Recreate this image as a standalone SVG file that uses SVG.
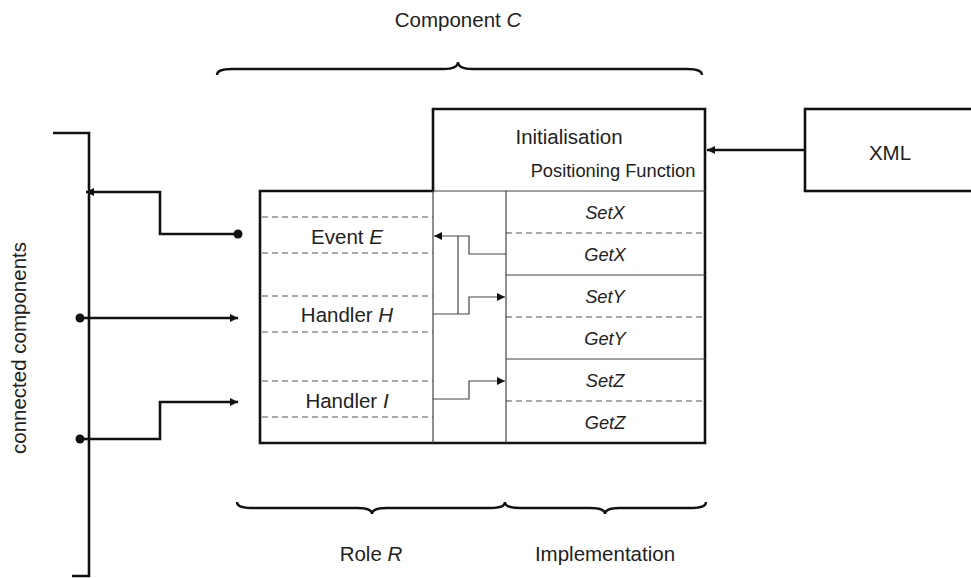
<svg xmlns="http://www.w3.org/2000/svg" width="971" height="578" viewBox="0 0 971 578">
<defs>
<style>
.t{font-family:"Liberation Sans",Arial,sans-serif;font-size:20.5px;fill:#222;text-anchor:middle}
.s{font-family:"Liberation Sans",Arial,sans-serif;font-size:18.3px;fill:#222;text-anchor:middle;font-style:italic}
.thick{fill:none;stroke:#111;stroke-width:2.6}
.thin{fill:none;stroke:#444;stroke-width:1.2}
.dash{fill:none;stroke:#555;stroke-width:1.2;stroke-dasharray:6 4}
.brace{fill:none;stroke:#111;stroke-width:2.4}
</style>
<marker id="ahs" viewBox="0 0 10 10" refX="10" refY="5" markerWidth="8" markerHeight="8" markerUnits="userSpaceOnUse" orient="auto"><path d="M0,0 L10,5 L0,10 z" fill="#111"/></marker>
</defs>
<rect width="971" height="578" fill="#fff"/>

<g id="component-label">
<text class="t" x="458" y="27">Component <tspan font-style="italic">C</tspan></text>
<path class="brace" d="M217,75 Q217,69 232,69 L443,69 Q458,69 458,62 Q458,69 473,69 L687,69 Q702,69 702,75"/>
</g>

<g id="component">
<path class="thick" d="M260,191 L433,191 L433,109 L705,109 L705,443 L260,443 Z"/>
<line class="thin" x1="433" y1="191" x2="705" y2="191"/>
<line class="thin" x1="433" y1="191" x2="433" y2="443"/>
<line class="thin" x1="506" y1="191" x2="506" y2="443"/>
<text class="t" x="569" y="144">Initialisation</text>
<text class="t" x="613" y="177" style="font-size:18.3px">Positioning Function</text>
</g>

<g id="role">
<line class="dash" x1="262" y1="217" x2="433" y2="217"/>
<line class="dash" x1="262" y1="253" x2="433" y2="253"/>
<line class="dash" x1="262" y1="296" x2="433" y2="296"/>
<line class="dash" x1="262" y1="332" x2="433" y2="332"/>
<line class="dash" x1="262" y1="381" x2="433" y2="381"/>
<line class="dash" x1="262" y1="417" x2="433" y2="417"/>
<text class="t" x="347" y="244">Event <tspan font-style="italic">E</tspan></text>
<text class="t" x="347" y="322">Handler <tspan font-style="italic">H</tspan></text>
<text class="t" x="347" y="408">Handler <tspan font-style="italic">I</tspan></text>
</g>

<g id="implementation">
<line class="dash" x1="506" y1="233" x2="705" y2="233"/>
<line class="thin" x1="506" y1="275" x2="705" y2="275"/>
<line class="dash" x1="506" y1="317" x2="705" y2="317"/>
<line class="thin" x1="506" y1="359" x2="705" y2="359"/>
<line class="dash" x1="506" y1="401" x2="705" y2="401"/>
<text class="s" x="605" y="219">SetX</text>
<text class="s" x="605" y="261">GetX</text>
<text class="s" x="605" y="303">SetY</text>
<text class="s" x="605" y="345">GetY</text>
<text class="s" x="605" y="387">SetZ</text>
<text class="s" x="605" y="429">GetZ</text>
</g>

<g id="xml">
<rect class="thick" x="805" y="109" width="175" height="82"/>
<text class="t" x="890" y="160">XML</text>
</g>

<g id="connected-components">
<path class="thick" d="M53,133 L89,133 L89,576 L72,576"/>
<text class="t" transform="translate(26,348) rotate(-90)">connected components</text>
</g>

<g id="connectors">
<line class="thick" x1="805" y1="150" x2="707" y2="150" marker-end="url(#ahs)"/>
<path class="thick" d="M238,234 L160,234 L160,192 L86,192" marker-end="url(#ahs)"/>
<circle cx="238" cy="234" r="4.5" fill="#111"/>
<path class="thick" d="M80,318 L238,318" marker-end="url(#ahs)"/>
<circle cx="80" cy="318" r="4.5" fill="#111"/>
<path class="thick" d="M80,439 L160,439 L160,402 L238,402" marker-end="url(#ahs)"/>
<circle cx="80" cy="439" r="4.5" fill="#111"/>
<path class="thin" d="M506,254 L469,254 L469,236 L434,236" marker-end="url(#ahs)"/>
<path class="thin" d="M458,236 L458,314"/>
<path class="thin" d="M433,314 L469,314 L469,297 L505,297" marker-end="url(#ahs)"/>
<path class="thin" d="M433,399 L469,399 L469,381 L505,381" marker-end="url(#ahs)"/>
</g>

<g id="bottom-braces">
<path class="brace" d="M237,502 Q237,508 252,508 L357,508 Q372,508 372,514 Q372,508 387,508 L490,508 Q505,508 505,502"/>
<path class="brace" d="M505,502 Q505,508 520,508 L590,508 Q605,508 605,514 Q605,508 620,508 L691,508 Q706,508 706,502"/>
<text class="t" x="371" y="561">Role <tspan font-style="italic">R</tspan></text>
<text class="t" x="605" y="561">Implementation</text>
</g>
</svg>
